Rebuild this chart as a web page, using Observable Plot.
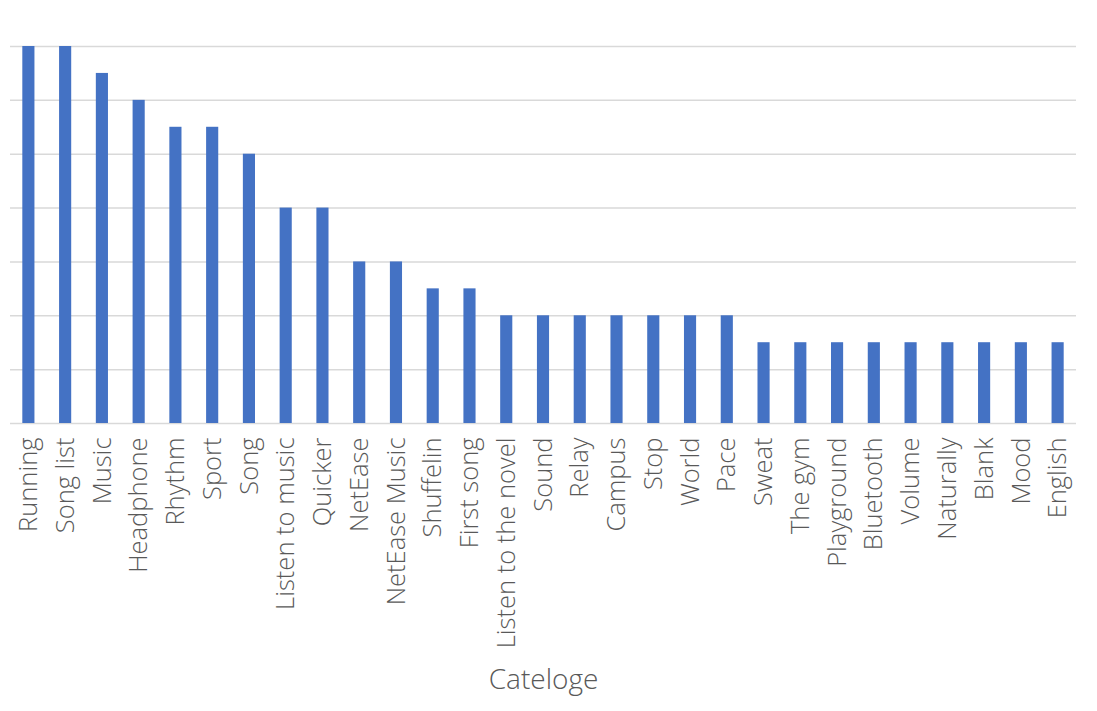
<!DOCTYPE html>
<html>
<head>
<meta charset="utf-8">
<script src="https://cdn.jsdelivr.net/npm/d3@7"></script>
<script src="https://cdn.jsdelivr.net/npm/@observablehq/plot@0.6"></script>
<style>
  html, body { margin: 0; padding: 0; background: #fff; }
  #chart svg { font-family: "Open Sans", "Noto Sans", sans-serif; font-weight: 300; }
</style>
</head>
<body>
<div id="chart"></div>
<script>
const categories = ["Running","Song list","Music","Headphone","Rhythm","Sport","Song","Listen to music","Quicker","NetEase","NetEase Music","Shuffelin","First song","Listen to the novel","Sound","Relay","Campus","Stop","World","Pace","Sweat","The gym","Playground","Bluetooth","Volume","Naturally","Blank","Mood","English"];
const values = [14,14,13,12,11,11,10,8,8,6,6,5,5,4,4,4,4,4,4,4,3,3,3,3,3,3,3,3,3];
const gridTicks = [0,2,4,6,8,10,12,14];
const xTitle = "Cateloge";

const data = categories.map((c, i) => ({category: c, value: values[i]}));

const chart = Plot.plot({
  width: 1097,
  height: 711,
  marginTop: 46,
  marginBottom: 288,
  marginLeft: 10,
  marginRight: 21,
  style: {fontSize: "25.5px", color: "#595959", background: "#fff"},
  x: {domain: categories, paddingInner: 0.67, paddingOuter: 0.335, round: false},
  y: {domain: [0, 14], axis: null},
  marks: [
    Plot.gridY(gridTicks.slice(1), {stroke: "#d9d9d9", strokeOpacity: 1, strokeWidth: 1.5}),
    Plot.ruleY([0], {stroke: "#d9d9d9", strokeWidth: 1.5}),
    Plot.barY(data, {x: "category", y: "value", fill: "#4472C4"}),
    Plot.axisX({
      tickSize: 0,
      tickPadding: 14,
      tickRotate: -90,
      fill: "#595959",
      fontSize: 25.5,
      label: null
    }),
    Plot.text([xTitle], {
      frameAnchor: "bottom",
      dy: 265,
      fontSize: 28,
      fill: "#595959"
    })
  ]
});
document.getElementById("chart").appendChild(chart);
</script>
</body>
</html>
